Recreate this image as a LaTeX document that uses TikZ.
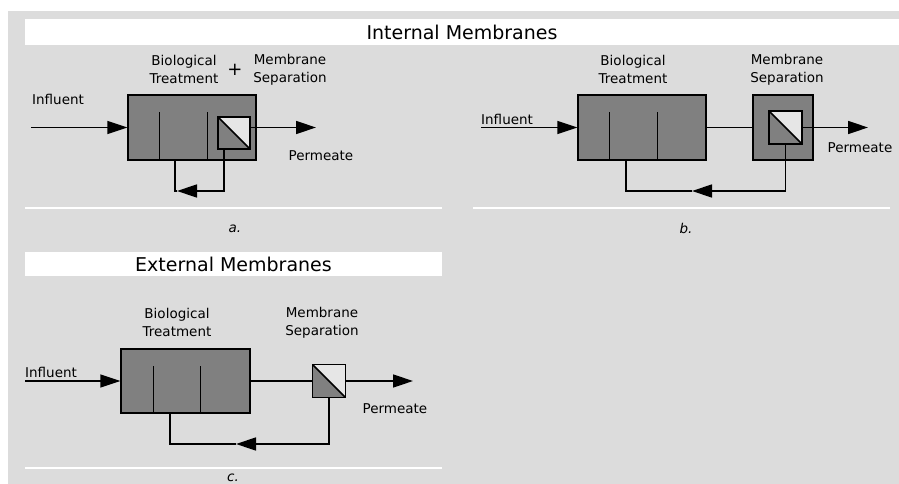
\documentclass[tikz,border=0pt]{standalone}
\usepackage{fontspec}
\setmainfont{DejaVu Sans}
\usetikzlibrary{arrows.meta,positioning}
\definecolor{panelgray}{HTML}{DCDCDC}
\definecolor{tankgray}{HTML}{808080}
\definecolor{filmgray}{HTML}{E6E6E6}
\tikzstyle{tank} = [rectangle, draw=black, fill=tankgray, line width=1.3pt, minimum width=128pt, minimum height=65pt, inner sep=0pt]
\tikzstyle{housing} = [rectangle, draw=black, fill=tankgray, line width=1.3pt, minimum width=60pt, minimum height=65pt, inner sep=0pt]
\tikzstyle{membrane} = [rectangle, draw=black, fill=tankgray, line width=1.8pt, minimum size=32pt, inner sep=0pt,
  path picture={\fill[filmgray] (path picture bounding box.north west) -- (path picture bounding box.north east) -- (path picture bounding box.south east) -- cycle;
    \draw[line width=1.5pt] (path picture bounding box.north west) -- (path picture bounding box.south east);}]
\tikzstyle{banner} = [fill=white, minimum height=26pt, inner sep=0pt, font=\fontsize{19}{22}\selectfont]
\tikzstyle{heading} = [align=center, inner sep=0pt, font=\fontsize{13.5}{18}\selectfont]
\tikzstyle{panelname} = [inner sep=0pt, font=\fontsize{13.5}{16}\selectfont\itshape]
\tikzstyle{pipe} = [line width=1.4pt]
\tikzstyle{arrow} = [line width=1.4pt, -{Triangle[length=20pt,width=13pt]}]

\begin{document}
\begin{tikzpicture}[x=1pt, y=-1pt]
   \useasboundingbox (0,0) rectangle (899,484);
   \fill[panelgray] (8,11) rectangle (899,484);
   \node (internal) [banner, minimum width=874pt] at (462,32) {Internal Membranes};
   \node (external) [banner, minimum width=417pt, minimum height=24pt] at (233.5,264) {External Membranes};
   \draw[white, line width=1.5pt] (25,208) -- (442,208);
   \draw[white, line width=1.5pt] (473,208) -- (890,208);
   \draw[white, line width=1.5pt] (25,468) -- (442,468);
   \node (capA) [panelname] at (235,229) {a.};
   \node (capB) [panelname] at (686,228) {b.};
   \node (capC) [panelname] at (233,478) {c.};

   \node (tankA) [tank] at (192,127.5) {};
   \node (memA) [membrane] at (234,133) {};
   \coordinate (inA) at (31,127.5);
   \coordinate (outA) at (316,127.5);
   \coordinate (retA) at (177,191);
   \node (bioA) [heading] at (184,69) {Biological\\Treatment};
   \node (plusA) [heading, font=\fontsize{18}{20}\selectfont] at (235,70) {+};
   \node (sepA) [heading] at (290,70) {Membrane\\Separation};
   \node (influentA) [heading, above right=23pt and 1pt of inA] {Influent};
   \node (permeateA) [heading] at (321,156) {Permeate};
   \draw [pipe] ([xshift=32pt]tankA.south west) -- ++(0,-49);
   \draw [pipe] ([xshift=80pt]tankA.south west) -- ++(0,-49);
   \draw [arrow] (inA) -- (tankA.west);
   \draw [arrow] (memA.east |- tankA.east) -- (outA);
   \draw [arrow] ([xshift=-10pt]memA.south) |- (retA);
   \draw [pipe] (retA) -| ([xshift=-17pt]tankA.south);

   \node (tankB) [tank] at (642,127.5) {};
   \node (houseB) [housing] at (783,127.5) {};
   \node (memB) [membrane, minimum size=33pt] at (785.5,127.5) {};
   \coordinate (inB) at (481,127.5);
   \coordinate (outB) at (868,127.5);
   \coordinate (retB) at (692,191);
   \node (bioB) [heading] at (633,69) {Biological\\Treatment};
   \node (sepB) [heading] at (787,70) {Membrane\\Separation};
   \node (influentB) [heading, above right=3pt and 0pt of inB] {Influent};
   \node (permeateB) [heading] at (860,148) {Permeate};
   \draw [pipe] ([xshift=32pt]tankB.south west) -- ++(0,-49);
   \draw [pipe] ([xshift=80pt]tankB.south west) -- ++(0,-49);
   \draw [arrow] (inB) -- (tankB.west);
   \draw [pipe] (tankB.east) -- (houseB.west);
   \draw [arrow] (memB.east) -- (outB);
   \draw [arrow] (memB.south) |- (retB);
   \draw [pipe] (retB) -| ([xshift=-16pt]tankB.south);

   \node (tankC) [tank, minimum width=129pt, minimum height=64pt] at (185.5,381) {};
   \node (memC) [membrane, minimum size=33pt] at (329,381) {};
   \coordinate (inC) at (25,381);
   \coordinate (outC) at (413,381);
   \coordinate (retC) at (236,444);
   \node (bioC) [heading] at (177,322) {Biological\\Treatment};
   \node (sepC) [heading] at (322,323) {Membrane\\Separation};
   \node (influentC) [heading, above right=3pt and 0pt of inC] {Influent};
   \node (permeateC) [heading] at (395,409) {Permeate};
   \draw [pipe] ([xshift=33pt]tankC.south west) -- ++(0,-48);
   \draw [pipe] ([xshift=80pt]tankC.south west) -- ++(0,-48);
   \draw [arrow] (inC) -- (tankC.west);
   \draw [pipe] (tankC.east) -- (memC.west);
   \draw [arrow] (memC.east) -- (outC);
   \draw [arrow] (memC.south) |- (retC);
   \draw [pipe] (retC) -| ([xshift=-15.5pt]tankC.south);
\end{tikzpicture}
\end{document}
